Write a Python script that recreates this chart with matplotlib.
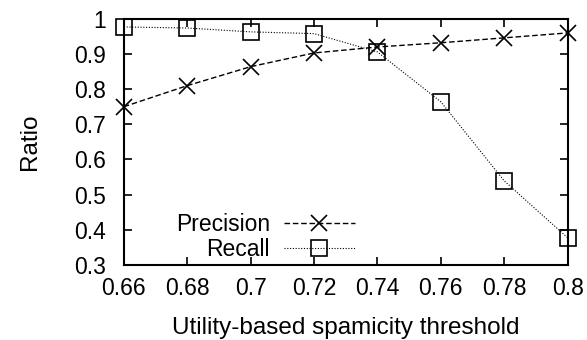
import matplotlib
matplotlib.use("Agg")
import matplotlib.pyplot as plt

thresholds = [0.66, 0.68, 0.70, 0.72, 0.74, 0.76, 0.78, 0.80]
precision = [0.75, 0.81, 0.864, 0.903, 0.92, 0.932, 0.946, 0.96]
recall = [0.977, 0.974, 0.963, 0.958, 0.906, 0.764, 0.539, 0.377]

xticks = [0.66, 0.68, 0.70, 0.72, 0.74, 0.76, 0.78, 0.80]
xticklabels = ["0.66", "0.68", "0.7", "0.72", "0.74", "0.76", "0.78", "0.8"]
yticks = [0.3, 0.4, 0.5, 0.6, 0.7, 0.8, 0.9, 1.0]
yticklabels = ["0.3", "0.4", "0.5", "0.6", "0.7", "0.8", "0.9", "1"]

plt.rcParams['font.family'] = ['Liberation Sans', 'DejaVu Sans']

fig = plt.figure(figsize=(5.87, 3.40), dpi=100)
ax = fig.add_axes([0.211, 0.221, 0.756, 0.7235])

ax.plot(thresholds, precision, color='black', linestyle=(0, (4, 2)), linewidth=1,
        marker='x', markersize=12, markeredgewidth=1.2, label='Precision', clip_on=False)
ax.plot(thresholds, recall, color='black', linestyle=(0, (1, 1.5)), linewidth=0.8,
        marker='s', markersize=11, markerfacecolor='none', markeredgewidth=1.2,
        label='Recall', clip_on=False)

ax.set_xlim(0.66, 0.80)
ax.set_ylim(0.3, 1.0)
ax.set_xticks(xticks)
ax.set_xticklabels(xticklabels)
ax.set_yticks(yticks)
ax.set_yticklabels(yticklabels)
ax.tick_params(direction='in', length=6, width=1.2, top=True, right=True,
               labelsize=16.5)
ax.tick_params(axis='x', pad=9)
ax.tick_params(axis='y', pad=13)
for s in ax.spines.values():
    s.set_linewidth(1.5)

ax.set_xlabel('Utility-based spamicity threshold', fontsize=17.5, labelpad=12)
ax.set_ylabel('Ratio', fontsize=17.5, labelpad=24)

ax.legend(loc='lower right', bbox_to_anchor=(0.52, 0.015), frameon=False,
          markerfirst=False, fontsize=16.5, handlelength=3.1, handletextpad=0.6,
          labelspacing=0.1, borderaxespad=0, borderpad=0)

fig.savefig('out.png', dpi=100)
